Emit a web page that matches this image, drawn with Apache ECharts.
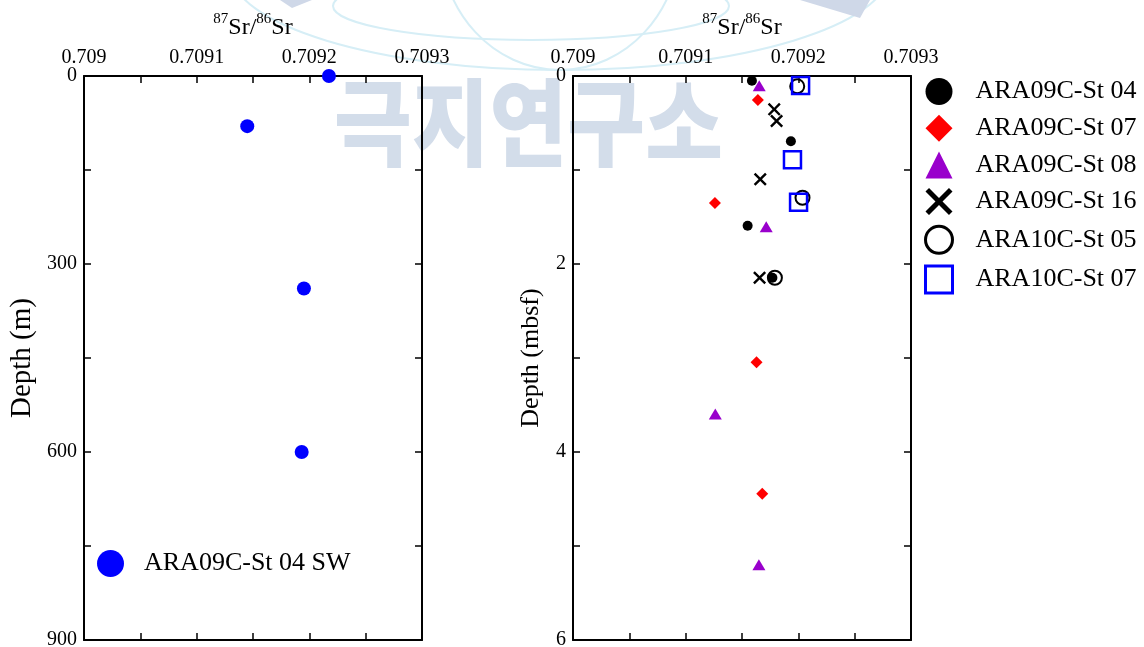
<!DOCTYPE html>
<html>
<head>
<meta charset="utf-8">
<script src="https://cdn.jsdelivr.net/npm/echarts@6/dist/echarts.min.js"></script>
<style>
  html, body { margin: 0; padding: 0; background: #fff; }
  #chart { width: 1144px; height: 647px; }
</style>
</head>
<body>
<div id="chart"></div>
<script>
// Seawater profile (left panel): 87Sr/86Sr vs water depth (m)
const swRatio = [0.7092174, 0.7091449, 0.7091952, 0.7091932];
const swDepth = [0, 80, 339, 600];

// Sediment pore-water profiles (right panel): [87Sr/86Sr, depth (mbsf)]
const st04 = [[0.7091588, 0.05], [0.7091934, 0.695], [0.709155, 1.593], [0.709177, 2.146]];
const st07 = [[0.7091641, 0.255], [0.709126, 1.35], [0.7091629, 3.046], [0.709168, 4.444]];
const st08 = [[0.7091653, 0.103], [0.7091715, 1.603], [0.7091263, 3.596], [0.709165, 5.2]];
const st16 = [[0.7091786, 0.355], [0.7091807, 0.479], [0.7091662, 1.099], [0.7091656, 2.146]];
const st10_05 = [[0.709199, 0.11], [0.7092037, 1.295], [0.7091792, 2.146]];
const st10_07 = [[0.709202, 0.10], [0.7091948, 0.89], [0.7092002, 1.344]];

const ratioTickLabels = ['0.709', '0.7091', '0.7092', '0.7093'];
const depthMTickLabels = ['0', '300', '600', '900'];
const depthMbsfTickLabels = ['0', '2', '4', '6'];

const FONT = "'Liberation Serif', 'Times New Roman', serif";
const CROSS = 'path://M1.3,0L5,3.7L8.7,0L10,1.3L6.3,5L10,8.7L8.7,10L5,6.3L1.3,10L0,8.7L3.7,5L0,1.3Z';

const swPoints = swRatio.map((r, i) => [r, swDepth[i]]);

function ratioLabel(v) {
  const k = Math.round(v * 20000);
  if (k % 2 !== 0) return '';
  const idx = Math.round((v - 0.709) * 10000);
  return ratioTickLabels[idx] !== undefined ? ratioTickLabels[idx] : '';
}
function depthLabel(list, step) {
  return function (v) {
    const idx = Math.round(v / step);
    return Math.abs(v - idx * step) < 1e-9 && list[idx] !== undefined ? list[idx] : '';
  };
}

const grids = [
  { left: 84, top: 76, width: 338, height: 564, containLabel: false, outerBoundsMode: 'none' },
  { left: 573, top: 76, width: 338, height: 564, containLabel: false, outerBoundsMode: 'none' }
];

const tick = { show: true, inside: true, length: 7, lineStyle: { color: '#000', width: 1.5 } };
const line = { show: true, onZero: false, lineStyle: { color: '#000', width: 2 } };
const srName = '{sup|87}{b|Sr/}{sup|86}{b|Sr}';
const srNameStyle = {
  rich: {
    b: { fontFamily: FONT, fontSize: 24, color: '#000', lineHeight: 28, verticalAlign: 'bottom' },
    sup: { fontFamily: FONT, fontSize: 15, color: '#000', lineHeight: 28, verticalAlign: 'top' }
  }
};

function xAxes(gi) {
  return [
    {
      gridIndex: gi, type: 'value', position: 'top', min: 0.709, max: 0.7093, interval: 0.00005,
      name: srName, nameLocation: 'middle', nameGap: 36, nameTextStyle: srNameStyle,
      axisLine: line, axisTick: tick, splitLine: { show: false },
      axisLabel: { interval: 0, showMinLabel: true, showMaxLabel: true, hideOverlap: false, margin: 8,
        fontFamily: FONT, fontSize: 20, color: '#000', formatter: ratioLabel }
    },
    {
      gridIndex: gi, type: 'value', position: 'bottom', min: 0.709, max: 0.7093, interval: 0.00005,
      axisLine: line, axisTick: tick, splitLine: { show: false }, axisLabel: { show: false }
    }
  ];
}
function yAxes(gi, max, step, list, name, nameSize, nameGap) {
  return [
    {
      gridIndex: gi, type: 'value', position: 'left', inverse: true, min: 0, max: max, interval: step / 2,
      name: name, nameLocation: 'middle', nameGap: nameGap,
      nameTextStyle: { fontFamily: FONT, fontSize: nameSize, color: '#000' },
      axisLine: line, axisTick: tick, splitLine: { show: false },
      axisLabel: { interval: 0, showMinLabel: true, showMaxLabel: true, hideOverlap: false, margin: 7,
        fontFamily: FONT, fontSize: 20, color: '#000', formatter: depthLabel(list, step) }
    },
    {
      gridIndex: gi, type: 'value', position: 'right', inverse: true, min: 0, max: max, interval: step / 2,
      axisLine: line, axisTick: tick, splitLine: { show: false }, axisLabel: { show: false }
    }
  ];
}

const hollowBlack = { color: 'rgba(0,0,0,0)', borderColor: '#000', borderWidth: 2, opacity: 1 };
const hollowBlue = { color: 'rgba(0,0,0,0)', borderColor: '#0000ff', borderWidth: 2.5, opacity: 1 };

const option = {
  backgroundColor: '#fff',
  animation: false,
  grid: grids,
  xAxis: [...xAxes(0), ...xAxes(1)],
  yAxis: [
    ...yAxes(0, 900, 300, depthMTickLabels, 'Depth (m)', 29, 47),
    ...yAxes(1, 6, 2, depthMbsfTickLabels, 'Depth (mbsf)', 26, 29)
  ],
  legend: [
    {
      left: 97, top: 550, padding: 0, itemWidth: 27, itemHeight: 27,
      textStyle: { fontFamily: FONT, fontSize: 26, color: '#000', padding: [0, 0, 0, 15] },
      itemStyle: { opacity: 1 },
      data: [{ name: 'ARA09C-St 04 SW', icon: 'circle' }]
    },
    {
      left: 924, top: 78, orient: 'vertical', padding: 0, itemWidth: 27, itemHeight: 27, itemGap: 9.7,
      textStyle: { fontFamily: FONT, fontSize: 26, color: '#000', padding: [0, 0, 0, 18] },
      itemStyle: { opacity: 1 },
      data: [
        { name: 'ARA09C-St 04', icon: 'circle' },
        { name: 'ARA09C-St 07', icon: 'diamond' },
        { name: 'ARA09C-St 08', icon: 'triangle' },
        { name: 'ARA09C-St 16', icon: CROSS },
        { name: 'ARA10C-St 05', icon: 'circle', itemStyle: { color: 'rgba(0,0,0,0)', borderColor: '#000', borderWidth: 3, opacity: 1 } },
        { name: 'ARA10C-St 07', icon: 'rect', itemStyle: { color: 'rgba(0,0,0,0)', borderColor: '#0000ff', borderWidth: 3, opacity: 1 } }
      ]
    }
  ],
  graphic: {
    elements: [
      { type: 'ellipse', z: -5, silent: true, shape: { cx: 531, cy: 6, rx: 198, ry: 34 },
        style: { fill: 'none', stroke: '#d6eef6', lineWidth: 2 } },
      { type: 'ellipse', z: -5, silent: true, shape: { cx: 560, cy: -30, rx: 330, ry: 100 },
        style: { fill: 'none', stroke: '#d6eef6', lineWidth: 2 } },
      { type: 'ellipse', z: -5, silent: true, shape: { cx: 560, cy: -60, rx: 120, ry: 130 },
        style: { fill: 'none', stroke: '#d6eef6', lineWidth: 2 } },
      { type: 'polygon', z: -5, silent: true, shape: { points: [[280, 0], [312, 0], [292, 8]] },
        style: { fill: '#cfd8e8' } },
      { type: 'polygon', z: -5, silent: true, shape: { points: [[800, 0], [870, 0], [860, 18]] },
        style: { fill: '#cfd8e8' } },
      { type: 'text', z: -4, silent: true, left: 334, top: 75, scaleX: 0.89,
        style: { text: '극지연구소', fill: '#d3ddea', font: "900 95px 'Noto Sans CJK KR'" } }
    ]
  },
  series: [
    { name: 'ARA09C-St 04 SW', type: 'scatter', xAxisIndex: 0, yAxisIndex: 0, clip: false,
      symbol: 'circle', symbolSize: 14, itemStyle: { color: '#0000ff', opacity: 1 }, data: swPoints },
    { name: 'ARA09C-St 04', type: 'scatter', xAxisIndex: 2, yAxisIndex: 2, clip: false,
      symbol: 'circle', symbolSize: 10, itemStyle: { color: '#000', opacity: 1 }, data: st04 },
    { name: 'ARA09C-St 07', type: 'scatter', xAxisIndex: 2, yAxisIndex: 2, clip: false,
      symbol: 'diamond', symbolSize: 12, itemStyle: { color: '#ff0000', opacity: 1 }, data: st07 },
    { name: 'ARA09C-St 08', type: 'scatter', xAxisIndex: 2, yAxisIndex: 2, clip: false,
      symbol: 'triangle', symbolSize: [13, 11], itemStyle: { color: '#9900cc', opacity: 1 }, data: st08 },
    { name: 'ARA09C-St 16', type: 'scatter', xAxisIndex: 2, yAxisIndex: 2, clip: false,
      symbol: CROSS, symbolSize: 13, itemStyle: { color: '#000', opacity: 1 }, data: st16 },
    { name: 'ARA10C-St 05', type: 'scatter', xAxisIndex: 2, yAxisIndex: 2, clip: false,
      symbol: 'circle', symbolSize: 14, itemStyle: hollowBlack, data: st10_05 },
    { name: 'ARA10C-St 07', type: 'scatter', xAxisIndex: 2, yAxisIndex: 2, clip: false,
      symbol: 'rect', symbolSize: 17, itemStyle: hollowBlue, data: st10_07 }
  ]
};

const chart = echarts.init(document.getElementById('chart'), null, { renderer: 'canvas' });
chart.setOption(option);
</script>
</body>
</html>
